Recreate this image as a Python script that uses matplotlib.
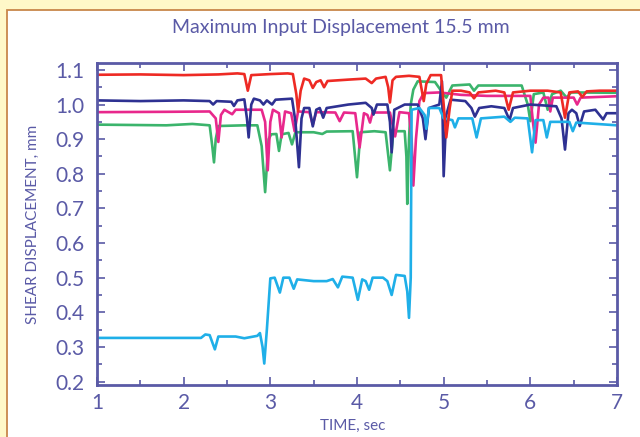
import matplotlib
matplotlib.use("Agg")
import matplotlib.pyplot as plt
from matplotlib.patches import Rectangle
from matplotlib.ticker import MultipleLocator

# time (sec) / shear displacement (mm), one list pair per trace
red_t = [1.0, 1.5, 2.0, 2.4, 2.62, 2.70, 2.74, 2.78, 3.0, 3.2, 3.26, 3.30, 3.32, 3.35, 3.39,
         3.45, 3.49, 3.53, 3.58, 3.62, 3.66, 3.9, 4.1, 4.17, 4.22, 4.33, 4.36, 4.38, 4.41,
         4.45, 4.6, 4.72, 4.77, 4.80, 4.85, 4.97, 5.0, 5.03, 5.07, 5.1, 5.2, 5.3, 5.35, 5.4,
         5.6, 5.7, 5.75, 5.8, 6.0, 6.2, 6.35, 6.40, 6.45, 6.55, 6.6, 6.65, 6.8, 7.0]
red_y = [1.086, 1.087, 1.085, 1.087, 1.09, 1.088, 1.04, 1.085, 1.088, 1.09, 1.088, 1.03, 0.98,
         1.04, 1.075, 1.07, 1.048, 1.065, 1.07, 1.05, 1.068, 1.072, 1.075, 1.062, 1.075, 1.08,
         1.05, 1.006, 1.07, 1.08, 1.083, 1.08, 1.01, 1.06, 1.085, 1.085, 1.0, 0.905, 0.99, 1.04,
         1.04, 1.035, 1.018, 1.035, 1.04, 1.035, 0.985, 1.035, 1.04, 1.04, 1.035, 0.962, 1.035,
         1.038, 1.022, 1.038, 1.04, 1.04]

navy_t = [1.0, 1.5, 2.0, 2.3, 2.34, 2.38, 2.55, 2.58, 2.62, 2.70, 2.73, 2.75, 2.78, 2.81, 2.88,
          2.92, 2.96, 3.02, 3.06, 3.25, 3.29, 3.33, 3.36, 3.39, 3.45, 3.49, 3.53, 3.57, 3.61,
          3.65, 3.9, 4.1, 4.17, 4.19, 4.23, 4.35, 4.38, 4.40, 4.43, 4.55, 4.7, 4.76, 4.79, 4.83,
          4.95, 4.98, 5.0, 5.03, 5.08, 5.25, 5.32, 5.36, 5.41, 5.55, 5.7, 5.76, 5.8, 6.0, 6.3,
          6.36, 6.40, 6.44, 6.48, 6.53, 6.57, 6.62, 6.75, 6.84, 6.88, 7.0]
navy_y = [1.012, 1.01, 1.012, 1.01, 1.0, 1.01, 1.008, 0.996, 1.012, 1.015, 0.96, 0.905, 1.0,
          1.017, 1.012, 1.0, 1.012, 1.0, 1.014, 1.017, 0.95, 0.819, 0.96, 0.99, 0.99, 0.937,
          0.985, 0.99, 0.962, 0.99, 1.0, 1.005, 0.99, 0.971, 1.0, 1.0, 0.95, 0.862, 0.985, 1.0,
          1.0, 0.96, 0.90, 0.99, 1.0, 1.067, 0.793, 0.97, 1.014, 1.01, 0.99, 0.965, 0.99, 0.995,
          0.99, 0.955, 0.99, 1.0, 0.995, 0.96, 0.87, 0.975, 0.985, 0.975, 0.938, 0.98, 0.985,
          0.957, 0.975, 0.975]

pink_t = [1.0, 1.8, 2.3, 2.37, 2.40, 2.43, 2.47, 2.56, 2.6, 2.9, 2.94, 2.97, 3.0, 3.03, 3.1,
          3.13, 3.17, 3.24, 3.28, 3.32, 3.45, 3.49, 3.53, 3.75, 3.8, 3.85, 3.98, 4.03, 4.08,
          4.12, 4.15, 4.18, 4.38, 4.44, 4.49, 4.6, 4.63, 4.65, 4.68, 4.72, 4.77, 4.95, 5.2, 5.5,
          6.0, 6.03, 6.06, 6.1, 6.15, 6.21, 6.23, 6.26, 6.5, 6.54, 6.58, 7.0]
pink_y = [0.978, 0.979, 0.98, 0.96, 0.892, 0.97, 0.985, 0.972, 0.985, 0.985, 0.95, 0.81, 0.95,
          0.985, 0.975, 0.905, 0.98, 0.975, 0.923, 0.98, 0.978, 0.942, 0.978, 0.977, 0.952,
          0.977, 0.975, 0.876, 0.975, 0.97, 0.948, 0.977, 0.977, 0.908, 0.978, 0.975, 0.9,
          0.766, 0.9, 1.01, 1.033, 1.035, 1.028, 1.025, 1.025, 0.95, 0.89, 1.0, 1.02, 1.02,
          0.98, 1.02, 1.02, 1.0, 1.02, 1.024]

green_t = [1.0, 1.8, 2.1, 2.3, 2.33, 2.35, 2.37, 2.40, 2.7, 2.85, 2.9, 2.94, 2.98, 3.01, 3.07,
           3.10, 3.13, 3.21, 3.25, 3.29, 3.5, 3.6, 3.65, 3.95, 4.0, 4.04, 4.2, 4.33, 4.38, 4.42,
           4.55, 4.57, 4.58, 4.60, 4.62, 4.65, 4.7, 4.9, 4.97, 5.03, 5.1, 5.3, 5.35, 5.4, 5.9,
           5.97, 6.0, 6.04, 6.15, 6.2, 6.25, 6.35, 6.42, 6.47, 7.0]
green_y = [0.942, 0.94, 0.944, 0.94, 0.88, 0.833, 0.9, 0.938, 0.94, 0.94, 0.88, 0.747, 0.9,
           0.914, 0.915, 0.866, 0.914, 0.918, 0.885, 0.92, 0.92, 0.915, 0.922, 0.923, 0.79,
           0.92, 0.923, 0.92, 0.81, 0.923, 0.923, 0.85, 0.713, 0.9, 1.0, 1.043, 1.067, 1.065,
           1.04, 1.02, 1.055, 1.058, 1.04, 1.055, 1.055, 1.0, 0.952, 1.03, 1.035, 0.985, 1.03,
           1.04, 1.02, 1.035, 1.034]

cyan_t = [1.0, 2.2, 2.25, 2.3, 2.36, 2.4, 2.6, 2.7, 2.85, 2.88, 2.91, 2.93, 2.96, 3.0, 3.05,
          3.11, 3.15, 3.22, 3.27, 3.31, 3.5, 3.65, 3.72, 3.78, 3.83, 3.95, 4.01, 4.06, 4.10,
          4.14, 4.18, 4.3, 4.35, 4.40, 4.45, 4.55, 4.58, 4.60, 4.62, 4.63, 4.72, 4.78, 4.80,
          4.83, 4.95, 5.0, 5.1, 5.13, 5.17, 5.33, 5.38, 5.43, 5.7, 5.77, 5.82, 5.97, 6.02, 6.06,
          6.15, 6.19, 6.23, 6.45, 6.49, 6.53, 7.0]
cyan_y = [0.326, 0.326, 0.336, 0.334, 0.293, 0.33, 0.33, 0.325, 0.332, 0.34, 0.3, 0.252, 0.35,
          0.498, 0.5, 0.457, 0.5, 0.5, 0.468, 0.495, 0.49, 0.49, 0.496, 0.472, 0.503, 0.5,
          0.436, 0.495, 0.49, 0.465, 0.5, 0.5, 0.49, 0.45, 0.508, 0.505, 0.46, 0.384, 0.5,
          0.985, 0.99, 0.97, 0.93, 0.99, 0.99, 0.96, 0.955, 0.934, 0.96, 0.96, 0.905, 0.96,
          0.965, 0.95, 0.962, 0.96, 0.862, 0.955, 0.955, 0.905, 0.95, 0.95, 0.923, 0.948, 0.94]

ink = '#5a5aa6'
plt.rcParams['font.family'] = ['Lato', 'DejaVu Sans']

fig = plt.figure(figsize=(6.4, 4.37), dpi=100, facecolor='#fff8c8')
panel = Rectangle((7 / 640, -0.1), 1.1, 1.1 - 10 / 437, transform=fig.transFigure,
                  facecolor='white', edgecolor='#c8874a', lw=1.3, zorder=-10)
fig.add_artist(panel)

ax = fig.add_axes([97 / 640, 1 - 385 / 437, 520 / 640, 322 / 437])
ax.set_zorder(5)

ax.plot(green_t, green_y, color='#3bb46c', lw=1.9)
ax.plot(pink_t, pink_y, color='#e8288c', lw=1.9)
ax.plot(navy_t, navy_y, color='#2e3192', lw=1.9)
ax.plot(cyan_t, cyan_y, color='#1fafe8', lw=1.9)
ax.plot(red_t, red_y, color='#ee2a24', lw=1.9)

ax.set_xlim(1, 7)
ax.set_ylim(0.19, 1.12)
ax.xaxis.set_major_locator(MultipleLocator(1))
ax.xaxis.set_minor_locator(MultipleLocator(0.5))
ax.yaxis.set_major_locator(MultipleLocator(0.1))
ax.yaxis.set_minor_locator(MultipleLocator(0.05))
ax.yaxis.set_major_formatter(matplotlib.ticker.FormatStrFormatter('%.1f'))

ax.tick_params(which='both', direction='in', top=True, right=True, color=ink, width=1.2,
               labelcolor=ink, labelsize=15)
ax.tick_params(which='major', length=6)
ax.tick_params(which='minor', length=3.5)
ax.tick_params(axis='x', pad=6)
ax.tick_params(axis='y', pad=9)
for s in ax.spines.values():
    s.set_color(ink)
    s.set_linewidth(2)

fig.text(341 / 640, 1 - 28 / 437, 'Maximum Input Displacement 15.5 mm', ha='center',
         va='center', color=ink, fontsize=14)
fig.text(353 / 640, 1 - 426 / 437, 'TIME, sec', ha='center', va='center', color=ink,
         fontsize=11)
fig.text(33 / 640, 1 - 224 / 437, 'SHEAR DISPLACEMENT, mm', ha='center', va='center',
         rotation=90, color=ink, fontsize=11)

fig.savefig('out.png', dpi=100, facecolor=fig.get_facecolor())
